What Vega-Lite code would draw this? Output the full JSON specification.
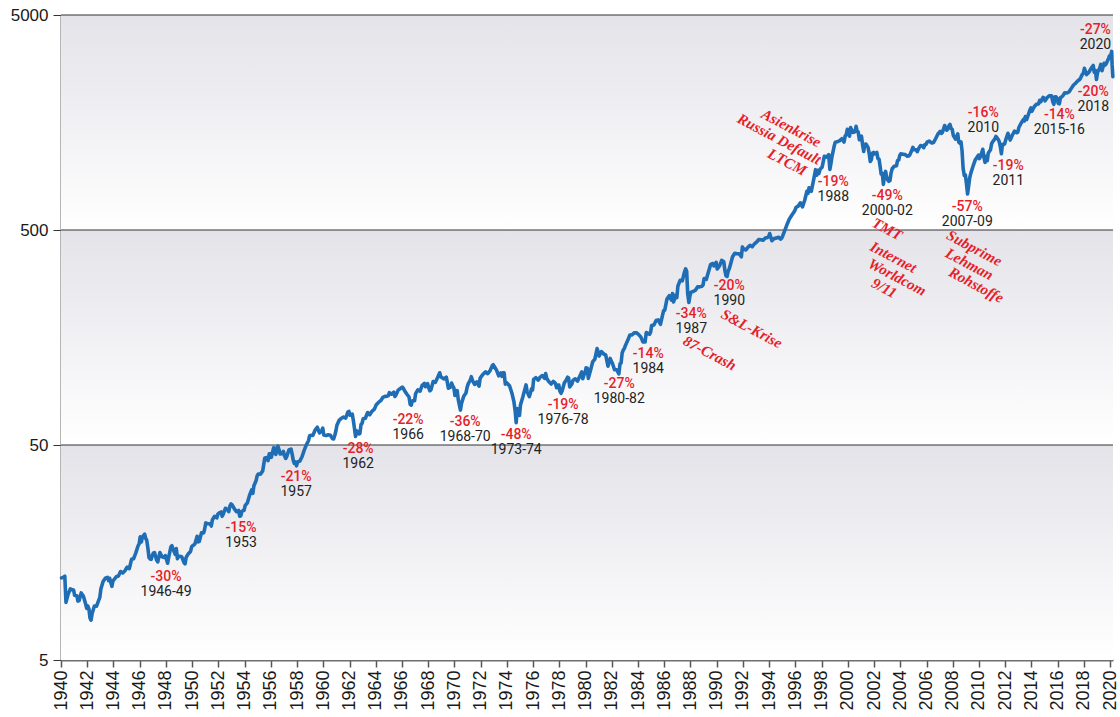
{
  "$schema": "https://vega.github.io/schema/vega-lite/v6.json",
  "width": 1052,
  "height": 645,
  "autosize": {"type": "none"},
  "padding": {"left": 61, "top": 15, "right": 7, "bottom": 57},
  "background": "#ffffff",
  "config": {
    "view": {"stroke": null},
    "axisX": {"labelOverlap": false, "labelSeparation": -30, "labelAngle": -90, "labelAlign": "right", "labelBaseline": "middle", "labelFont": "Liberation Sans", "labelFontSize": 18, "labelColor": "#1a1a1a", "tickSize": 7, "tickColor": "#555555", "tickWidth": 1.5, "domainColor": "#6e6e6e", "domainWidth": 2, "labelPadding": 3, "grid": false, "zindex": 1, "labelBound": false, "labelFlush": false, "title": null},
    "axisY": {"labelOverlap": false, "grid": false, "domainColor": "#6e6e6e", "domainWidth": 2, "tickColor": "#333333", "tickSize": 8, "tickWidth": 1, "labelFont": "Liberation Sans", "labelFontSize": 17, "labelColor": "#1a1a1a", "labelPadding": 5, "zindex": 1, "title": null}
  },
  "datasets": {
    "bands": [{"lo": 5, "hi": 50}, {"lo": 50, "hi": 500}, {"lo": 500, "hi": 5000}],
    "grid": [{"v": 50}, {"v": 500}, {"v": 5000}],
    "labels": [
      {"t": 1948.01, "v": 11.28, "pct": "-30%", "yr": "1946-49"},
      {"t": 1953.73, "v": 18.97, "pct": "-15%", "yr": "1953"},
      {"t": 1957.93, "v": 32.58, "pct": "-21%", "yr": "1957"},
      {"t": 1962.66, "v": 44.44, "pct": "-28%", "yr": "1962"},
      {"t": 1966.47, "v": 60.62, "pct": "-22%", "yr": "1966"},
      {"t": 1970.82, "v": 59.34, "pct": "-36%", "yr": "1968-70"},
      {"t": 1974.71, "v": 51.09, "pct": "-48%", "yr": "1973-74"},
      {"t": 1978.29, "v": 70.81, "pct": "-19%", "yr": "1976-78"},
      {"t": 1982.57, "v": 88.67, "pct": "-27%", "yr": "1980-82"},
      {"t": 1984.78, "v": 122.9, "pct": "-14%", "yr": "1984"},
      {"t": 1988.06, "v": 186.7, "pct": "-34%", "yr": "1987"},
      {"t": 1990.96, "v": 252.0, "pct": "-20%", "yr": "1990"},
      {"t": 1998.89, "v": 771.7, "pct": "-19%", "yr": "1988"},
      {"t": 2003.01, "v": 660.6, "pct": "-49%", "yr": "2000-02"},
      {"t": 2009.11, "v": 590.3, "pct": "-57%", "yr": "2007-09"},
      {"t": 2010.33, "v": 1624, "pct": "-16%", "yr": "2010"},
      {"t": 2012.24, "v": 910.9, "pct": "-19%", "yr": "2011"},
      {"t": 2016.13, "v": 1581, "pct": "-14%", "yr": "2015-16"},
      {"t": 2018.72, "v": 2023, "pct": "-20%", "yr": "2018"},
      {"t": 2018.88, "v": 3929, "pct": "-27%", "yr": "2020"}
    ],
    "notes": [
      {"t": 1995.69, "v": 1490.6, "txt": "Asienkrise"},
      {"t": 1994.77, "v": 1325, "txt": "Russia Default"},
      {"t": 1995.38, "v": 1035.8, "txt": "LTCM"},
      {"t": 2003.01, "v": 505.2, "txt": "TMT"},
      {"t": 2003.47, "v": 374.5, "txt": "Internet"},
      {"t": 2003.77, "v": 302.2, "txt": "Worldcom"},
      {"t": 2002.78, "v": 268.7, "txt": "9/11"},
      {"t": 2009.65, "v": 412.3, "txt": "Subprime"},
      {"t": 2009.27, "v": 347.4, "txt": "Lehman"},
      {"t": 2009.80, "v": 277.5, "txt": "Rohstoffe"},
      {"t": 1989.47, "v": 133.9, "txt": "87-Crash"},
      {"t": 1992.67, "v": 174.1, "txt": "S&L-Krise"}
    ],
    "sp": [
      {"t":1940.04,"v":12.05},{"t":1940.21,"v":12.15},{"t":1940.29,"v":12.27},{"t":1940.38,"v":9.27},{"t":1940.54,"v":10.1},{"t":1940.71,"v":10.7},{"t":1940.88,"v":10.6},{"t":1940.96,"v":10.58},
      {"t":1941.04,"v":10.0},{"t":1941.21,"v":9.95},{"t":1941.29,"v":9.4},{"t":1941.38,"v":9.45},{"t":1941.54,"v":10.26},{"t":1941.71,"v":9.9},{"t":1941.88,"v":9.1},{"t":1941.96,"v":8.69},
      {"t":1942.04,"v":8.93},{"t":1942.13,"v":8.65},{"t":1942.21,"v":7.84},{"t":1942.29,"v":7.66},{"t":1942.38,"v":8.25},{"t":1942.54,"v":8.9},{"t":1942.71,"v":8.9},{"t":1942.88,"v":9.5},{"t":1942.96,"v":9.77},
      {"t":1943.04,"v":10.7},{"t":1943.21,"v":11.6},{"t":1943.38,"v":12.0},{"t":1943.54,"v":12.1},{"t":1943.63,"v":11.7},{"t":1943.71,"v":12.0},{"t":1943.88,"v":11.0},{"t":1943.96,"v":11.67},
      {"t":1944.04,"v":11.8},{"t":1944.21,"v":12.2},{"t":1944.38,"v":12.3},{"t":1944.54,"v":12.9},{"t":1944.71,"v":12.7},{"t":1944.88,"v":13.0},{"t":1944.96,"v":13.28},
      {"t":1945.04,"v":13.5},{"t":1945.21,"v":13.3},{"t":1945.38,"v":14.7},{"t":1945.54,"v":14.8},{"t":1945.71,"v":15.8},{"t":1945.88,"v":17.0},{"t":1945.96,"v":17.36},
      {"t":1946.04,"v":18.7},{"t":1946.13,"v":17.7},{"t":1946.21,"v":18.7},{"t":1946.38,"v":19.25},{"t":1946.46,"v":18.4},{"t":1946.54,"v":18.0},{"t":1946.63,"v":16.5},{"t":1946.71,"v":14.96},{"t":1946.79,"v":14.75},{"t":1946.88,"v":14.7},{"t":1946.96,"v":15.3},
      {"t":1947.04,"v":15.7},{"t":1947.13,"v":15.8},{"t":1947.29,"v":14.6},{"t":1947.38,"v":14.3},{"t":1947.54,"v":15.8},{"t":1947.71,"v":15.1},{"t":1947.88,"v":15.0},{"t":1947.96,"v":15.3},
      {"t":1948.04,"v":14.7},{"t":1948.13,"v":14.1},{"t":1948.21,"v":15.0},{"t":1948.38,"v":16.8},{"t":1948.46,"v":17.0},{"t":1948.54,"v":16.4},{"t":1948.71,"v":15.5},{"t":1948.79,"v":16.5},{"t":1948.88,"v":14.8},{"t":1948.96,"v":15.2},
      {"t":1949.04,"v":15.2},{"t":1949.21,"v":15.1},{"t":1949.38,"v":14.2},{"t":1949.46,"v":14.0},{"t":1949.54,"v":15.0},{"t":1949.71,"v":15.6},{"t":1949.88,"v":16.0},{"t":1949.96,"v":16.8},
      {"t":1950.04,"v":17.0},{"t":1950.21,"v":17.3},{"t":1950.38,"v":18.8},{"t":1950.46,"v":17.7},{"t":1950.54,"v":17.8},{"t":1950.71,"v":19.5},{"t":1950.88,"v":19.5},{"t":1950.96,"v":20.4},
      {"t":1951.04,"v":21.7},{"t":1951.21,"v":21.5},{"t":1951.38,"v":21.5},{"t":1951.46,"v":21.0},{"t":1951.54,"v":22.4},{"t":1951.71,"v":23.3},{"t":1951.88,"v":22.9},{"t":1951.96,"v":23.8},
      {"t":1952.04,"v":24.1},{"t":1952.21,"v":24.4},{"t":1952.29,"v":23.3},{"t":1952.38,"v":23.9},{"t":1952.54,"v":25.4},{"t":1952.71,"v":25.0},{"t":1952.79,"v":24.5},{"t":1952.88,"v":26.0},{"t":1952.96,"v":26.6},
      {"t":1953.04,"v":26.4},{"t":1953.21,"v":25.3},{"t":1953.38,"v":24.5},{"t":1953.54,"v":24.8},{"t":1953.63,"v":23.3},{"t":1953.71,"v":23.4},{"t":1953.79,"v":24.5},{"t":1953.88,"v":24.8},{"t":1953.96,"v":24.8},
      {"t":1954.04,"v":26.1},{"t":1954.21,"v":26.9},{"t":1954.38,"v":29.2},{"t":1954.54,"v":30.9},{"t":1954.63,"v":29.8},{"t":1954.71,"v":32.3},{"t":1954.88,"v":34.2},{"t":1954.96,"v":36.0},
      {"t":1955.04,"v":36.6},{"t":1955.21,"v":36.6},{"t":1955.38,"v":37.9},{"t":1955.54,"v":43.5},{"t":1955.71,"v":43.7},{"t":1955.79,"v":42.3},{"t":1955.88,"v":45.5},{"t":1955.96,"v":45.5},
      {"t":1956.04,"v":43.8},{"t":1956.21,"v":48.5},{"t":1956.29,"v":48.4},{"t":1956.38,"v":45.2},{"t":1956.54,"v":49.4},{"t":1956.63,"v":47.5},{"t":1956.71,"v":45.4},{"t":1956.88,"v":45.6},{"t":1956.96,"v":46.7},
      {"t":1957.04,"v":44.7},{"t":1957.13,"v":43.3},{"t":1957.21,"v":44.1},{"t":1957.38,"v":47.4},{"t":1957.54,"v":47.9},{"t":1957.63,"v":45.2},{"t":1957.71,"v":42.4},{"t":1957.79,"v":41.1},{"t":1957.88,"v":41.7},{"t":1957.96,"v":40.0},
      {"t":1958.04,"v":41.7},{"t":1958.21,"v":42.1},{"t":1958.38,"v":44.1},{"t":1958.54,"v":47.2},{"t":1958.71,"v":50.1},{"t":1958.88,"v":52.5},{"t":1958.96,"v":55.2},
      {"t":1959.04,"v":55.4},{"t":1959.21,"v":55.4},{"t":1959.38,"v":58.7},{"t":1959.54,"v":60.5},{"t":1959.71,"v":56.9},{"t":1959.88,"v":58.3},{"t":1959.96,"v":59.9},
      {"t":1960.04,"v":55.6},{"t":1960.21,"v":55.3},{"t":1960.38,"v":55.8},{"t":1960.54,"v":55.5},{"t":1960.71,"v":53.5},{"t":1960.79,"v":53.4},{"t":1960.88,"v":55.5},{"t":1960.96,"v":58.1},
      {"t":1961.04,"v":61.8},{"t":1961.21,"v":65.1},{"t":1961.38,"v":66.6},{"t":1961.54,"v":67.4},{"t":1961.71,"v":66.7},{"t":1961.88,"v":71.3},{"t":1961.96,"v":71.6},
      {"t":1962.04,"v":68.8},{"t":1962.21,"v":69.6},{"t":1962.29,"v":65.2},{"t":1962.38,"v":59.6},{"t":1962.46,"v":54.8},{"t":1962.54,"v":58.2},{"t":1962.71,"v":56.3},{"t":1962.79,"v":56.5},{"t":1962.88,"v":62.3},{"t":1962.96,"v":63.1},
      {"t":1963.04,"v":66.2},{"t":1963.21,"v":66.6},{"t":1963.38,"v":70.8},{"t":1963.54,"v":69.1},{"t":1963.71,"v":71.7},{"t":1963.88,"v":73.2},{"t":1963.96,"v":75.0},
      {"t":1964.04,"v":77.0},{"t":1964.21,"v":78.9},{"t":1964.38,"v":80.4},{"t":1964.54,"v":83.2},{"t":1964.71,"v":84.2},{"t":1964.88,"v":84.4},{"t":1964.96,"v":84.8},
      {"t":1965.04,"v":87.6},{"t":1965.21,"v":86.2},{"t":1965.38,"v":88.0},{"t":1965.46,"v":84.1},{"t":1965.54,"v":85.3},{"t":1965.71,"v":90.0},{"t":1965.88,"v":91.6},{"t":1965.96,"v":92.4},
      {"t":1966.04,"v":92.9},{"t":1966.13,"v":91.2},{"t":1966.21,"v":89.2},{"t":1966.38,"v":86.1},{"t":1966.54,"v":83.6},{"t":1966.63,"v":77.1},{"t":1966.71,"v":76.6},{"t":1966.79,"v":80.2},{"t":1966.88,"v":80.5},{"t":1966.96,"v":80.3},
      {"t":1967.04,"v":86.6},{"t":1967.21,"v":90.2},{"t":1967.38,"v":89.1},{"t":1967.54,"v":94.8},{"t":1967.71,"v":96.7},{"t":1967.79,"v":93.3},{"t":1967.88,"v":94.0},{"t":1967.96,"v":96.5},
      {"t":1968.04,"v":92.2},{"t":1968.13,"v":89.4},{"t":1968.21,"v":90.2},{"t":1968.38,"v":98.7},{"t":1968.54,"v":97.7},{"t":1968.71,"v":102.7},{"t":1968.88,"v":108.4},{"t":1968.96,"v":103.9},
      {"t":1969.04,"v":103.0},{"t":1969.21,"v":101.5},{"t":1969.38,"v":103.5},{"t":1969.46,"v":97.7},{"t":1969.54,"v":91.8},{"t":1969.71,"v":93.1},{"t":1969.79,"v":97.1},{"t":1969.88,"v":93.8},{"t":1969.96,"v":92.1},
      {"t":1970.04,"v":85.0},{"t":1970.21,"v":89.6},{"t":1970.29,"v":81.5},{"t":1970.38,"v":76.6},{"t":1970.46,"v":72.7},{"t":1970.54,"v":78.1},{"t":1970.71,"v":84.3},{"t":1970.88,"v":87.2},{"t":1970.96,"v":92.2},
      {"t":1971.04,"v":95.9},{"t":1971.21,"v":100.3},{"t":1971.29,"v":103.9},{"t":1971.38,"v":99.6},{"t":1971.54,"v":95.6},{"t":1971.71,"v":98.3},{"t":1971.88,"v":94.0},{"t":1971.96,"v":102.1},
      {"t":1972.04,"v":103.9},{"t":1972.21,"v":107.2},{"t":1972.38,"v":109.5},{"t":1972.54,"v":107.4},{"t":1972.71,"v":110.6},{"t":1972.88,"v":116.7},{"t":1972.96,"v":118.1},
      {"t":1973.04,"v":116.0},{"t":1973.21,"v":111.5},{"t":1973.38,"v":104.9},{"t":1973.54,"v":108.2},{"t":1973.63,"v":104.3},{"t":1973.71,"v":108.4},{"t":1973.79,"v":108.3},{"t":1973.88,"v":96.0},{"t":1973.96,"v":97.6},
      {"t":1974.04,"v":96.6},{"t":1974.21,"v":94.0},{"t":1974.38,"v":87.3},{"t":1974.54,"v":79.3},{"t":1974.63,"v":72.2},{"t":1974.71,"v":63.5},{"t":1974.79,"v":73.9},{"t":1974.88,"v":70.0},{"t":1974.96,"v":68.6},
      {"t":1975.04,"v":77.0},{"t":1975.21,"v":83.4},{"t":1975.38,"v":91.2},{"t":1975.46,"v":95.2},{"t":1975.54,"v":88.8},{"t":1975.71,"v":83.9},{"t":1975.88,"v":91.2},{"t":1975.96,"v":90.2},
      {"t":1976.04,"v":100.9},{"t":1976.21,"v":102.8},{"t":1976.38,"v":100.2},{"t":1976.54,"v":103.4},{"t":1976.71,"v":105.2},{"t":1976.88,"v":102.1},{"t":1976.96,"v":107.5},
      {"t":1977.04,"v":102.0},{"t":1977.21,"v":98.4},{"t":1977.38,"v":96.1},{"t":1977.54,"v":98.9},{"t":1977.71,"v":96.5},{"t":1977.79,"v":92.3},{"t":1977.88,"v":94.8},{"t":1977.96,"v":95.1},
      {"t":1978.04,"v":89.3},{"t":1978.13,"v":87.0},{"t":1978.21,"v":89.2},{"t":1978.38,"v":97.2},{"t":1978.54,"v":100.7},{"t":1978.63,"v":103.3},{"t":1978.71,"v":102.5},{"t":1978.79,"v":93.2},{"t":1978.88,"v":94.7},{"t":1978.96,"v":96.1},
      {"t":1979.04,"v":99.9},{"t":1979.21,"v":101.6},{"t":1979.38,"v":99.1},{"t":1979.54,"v":103.8},{"t":1979.71,"v":109.3},{"t":1979.79,"v":101.8},{"t":1979.88,"v":106.2},{"t":1979.96,"v":107.9},
      {"t":1980.04,"v":114.2},{"t":1980.13,"v":113.7},{"t":1980.21,"v":102.1},{"t":1980.29,"v":106.3},{"t":1980.38,"v":111.2},{"t":1980.54,"v":121.7},{"t":1980.71,"v":125.5},{"t":1980.88,"v":140.5},{"t":1980.96,"v":135.8},
      {"t":1981.04,"v":129.6},{"t":1981.21,"v":136.0},{"t":1981.38,"v":132.6},{"t":1981.54,"v":130.9},{"t":1981.71,"v":116.2},{"t":1981.88,"v":126.4},{"t":1981.96,"v":122.6},
      {"t":1982.04,"v":120.4},{"t":1982.21,"v":112.0},{"t":1982.38,"v":111.9},{"t":1982.54,"v":107.1},{"t":1982.63,"v":119.5},{"t":1982.71,"v":120.4},{"t":1982.79,"v":133.7},{"t":1982.88,"v":138.5},{"t":1982.96,"v":140.6},
      {"t":1983.04,"v":145.3},{"t":1983.21,"v":153.0},{"t":1983.38,"v":162.4},{"t":1983.54,"v":162.6},{"t":1983.71,"v":166.1},{"t":1983.88,"v":166.4},{"t":1983.96,"v":164.9},
      {"t":1984.04,"v":163.4},{"t":1984.21,"v":159.2},{"t":1984.38,"v":150.6},{"t":1984.54,"v":150.7},{"t":1984.63,"v":166.7},{"t":1984.71,"v":166.1},{"t":1984.88,"v":163.6},{"t":1984.96,"v":167.2},
      {"t":1985.04,"v":179.6},{"t":1985.21,"v":180.7},{"t":1985.38,"v":189.6},{"t":1985.54,"v":190.9},{"t":1985.71,"v":182.1},{"t":1985.88,"v":202.2},{"t":1985.96,"v":211.3},
      {"t":1986.04,"v":211.8},{"t":1986.21,"v":238.9},{"t":1986.38,"v":247.4},{"t":1986.54,"v":236.1},{"t":1986.63,"v":252.9},{"t":1986.71,"v":231.3},{"t":1986.88,"v":249.2},{"t":1986.96,"v":242.2},
      {"t":1987.04,"v":274.1},{"t":1987.21,"v":291.7},{"t":1987.38,"v":290.1},{"t":1987.54,"v":318.7},{"t":1987.63,"v":329.8},{"t":1987.71,"v":321.8},{"t":1987.79,"v":251.8},{"t":1987.88,"v":230.3},{"t":1987.96,"v":247.1},
      {"t":1988.04,"v":257.1},{"t":1988.21,"v":258.9},{"t":1988.38,"v":262.2},{"t":1988.54,"v":272.0},{"t":1988.71,"v":271.9},{"t":1988.88,"v":273.7},{"t":1988.96,"v":277.7},
      {"t":1989.04,"v":297.5},{"t":1989.21,"v":294.9},{"t":1989.38,"v":320.5},{"t":1989.54,"v":346.1},{"t":1989.71,"v":349.2},{"t":1989.79,"v":340.4},{"t":1989.88,"v":346.0},{"t":1989.96,"v":353.4},
      {"t":1990.04,"v":329.1},{"t":1990.21,"v":339.9},{"t":1990.38,"v":361.2},{"t":1990.54,"v":356.2},{"t":1990.63,"v":322.6},{"t":1990.71,"v":306.1},{"t":1990.79,"v":304.0},{"t":1990.88,"v":322.2},{"t":1990.96,"v":330.2},
      {"t":1991.04,"v":343.9},{"t":1991.21,"v":375.2},{"t":1991.38,"v":389.8},{"t":1991.54,"v":387.8},{"t":1991.71,"v":387.9},{"t":1991.88,"v":375.2},{"t":1991.96,"v":417.1},
      {"t":1992.04,"v":408.8},{"t":1992.21,"v":403.7},{"t":1992.38,"v":415.4},{"t":1992.54,"v":424.2},{"t":1992.71,"v":417.8},{"t":1992.88,"v":431.4},{"t":1992.96,"v":435.7},
      {"t":1993.04,"v":438.8},{"t":1993.21,"v":451.7},{"t":1993.38,"v":450.2},{"t":1993.54,"v":448.1},{"t":1993.71,"v":458.9},{"t":1993.88,"v":461.8},{"t":1993.96,"v":466.5},
      {"t":1994.04,"v":481.6},{"t":1994.21,"v":445.8},{"t":1994.38,"v":456.5},{"t":1994.54,"v":458.3},{"t":1994.71,"v":462.7},{"t":1994.88,"v":453.7},{"t":1994.96,"v":459.3},
      {"t":1995.04,"v":470.4},{"t":1995.21,"v":500.7},{"t":1995.38,"v":533.4},{"t":1995.54,"v":562.1},{"t":1995.71,"v":584.4},{"t":1995.88,"v":605.4},{"t":1995.96,"v":615.9},
      {"t":1996.04,"v":636.0},{"t":1996.21,"v":645.5},{"t":1996.38,"v":669.1},{"t":1996.54,"v":640.0},{"t":1996.71,"v":687.3},{"t":1996.88,"v":757.0},{"t":1996.96,"v":740.7},
      {"t":1997.04,"v":786.2},{"t":1997.21,"v":757.1},{"t":1997.38,"v":848.3},{"t":1997.54,"v":954.3},{"t":1997.63,"v":899.5},{"t":1997.71,"v":947.3},{"t":1997.79,"v":914.6},{"t":1997.88,"v":955.4},{"t":1997.96,"v":970.4},
      {"t":1998.04,"v":980.3},{"t":1998.21,"v":1101.8},{"t":1998.38,"v":1090.8},{"t":1998.54,"v":1120.7},{"t":1998.63,"v":957.3},{"t":1998.71,"v":1017.0},{"t":1998.79,"v":1098.7},{"t":1998.88,"v":1163.6},{"t":1998.96,"v":1229.2},
      {"t":1999.04,"v":1279.6},{"t":1999.21,"v":1286.4},{"t":1999.38,"v":1301.8},{"t":1999.54,"v":1328.7},{"t":1999.71,"v":1282.7},{"t":1999.79,"v":1362.9},{"t":1999.88,"v":1388.9},{"t":1999.96,"v":1469.3},
      {"t":2000.04,"v":1394.5},{"t":2000.13,"v":1366.4},{"t":2000.21,"v":1498.6},{"t":2000.38,"v":1420.6},{"t":2000.54,"v":1430.8},{"t":2000.63,"v":1517.7},{"t":2000.71,"v":1436.5},{"t":2000.79,"v":1429.4},{"t":2000.88,"v":1315.2},{"t":2000.96,"v":1320.3},
      {"t":2001.04,"v":1366.0},{"t":2001.13,"v":1239.9},{"t":2001.21,"v":1160.3},{"t":2001.29,"v":1249.5},{"t":2001.38,"v":1255.8},{"t":2001.54,"v":1211.2},{"t":2001.63,"v":1133.6},{"t":2001.71,"v":1040.9},{"t":2001.79,"v":1059.8},{"t":2001.88,"v":1139.5},{"t":2001.96,"v":1148.1},
      {"t":2002.04,"v":1130.2},{"t":2002.21,"v":1147.4},{"t":2002.29,"v":1076.9},{"t":2002.38,"v":1067.1},{"t":2002.46,"v":989.8},{"t":2002.54,"v":911.6},{"t":2002.63,"v":916.1},{"t":2002.71,"v":815.3},{"t":2002.79,"v":885.8},{"t":2002.88,"v":936.3},{"t":2002.96,"v":879.8},
      {"t":2003.04,"v":855.7},{"t":2003.13,"v":841.2},{"t":2003.21,"v":848.2},{"t":2003.29,"v":916.9},{"t":2003.38,"v":963.6},{"t":2003.54,"v":990.3},{"t":2003.71,"v":996.0},{"t":2003.79,"v":1050.7},{"t":2003.88,"v":1058.2},{"t":2003.96,"v":1111.9},
      {"t":2004.04,"v":1131.1},{"t":2004.21,"v":1126.2},{"t":2004.38,"v":1120.7},{"t":2004.54,"v":1101.7},{"t":2004.63,"v":1104.2},{"t":2004.71,"v":1114.6},{"t":2004.88,"v":1173.8},{"t":2004.96,"v":1211.9},
      {"t":2005.04,"v":1181.3},{"t":2005.21,"v":1180.6},{"t":2005.29,"v":1156.9},{"t":2005.38,"v":1191.5},{"t":2005.54,"v":1234.2},{"t":2005.71,"v":1228.8},{"t":2005.79,"v":1207.0},{"t":2005.88,"v":1249.5},{"t":2005.96,"v":1248.3},
      {"t":2006.04,"v":1280.1},{"t":2006.21,"v":1294.8},{"t":2006.38,"v":1270.1},{"t":2006.46,"v":1270.2},{"t":2006.54,"v":1276.7},{"t":2006.71,"v":1335.9},{"t":2006.88,"v":1400.6},{"t":2006.96,"v":1418.3},
      {"t":2007.04,"v":1438.2},{"t":2007.13,"v":1406.8},{"t":2007.21,"v":1420.9},{"t":2007.38,"v":1530.6},{"t":2007.54,"v":1455.3},{"t":2007.63,"v":1474.0},{"t":2007.71,"v":1526.8},{"t":2007.79,"v":1549.4},{"t":2007.88,"v":1481.1},{"t":2007.96,"v":1468.4},
      {"t":2008.04,"v":1378.6},{"t":2008.21,"v":1322.7},{"t":2008.38,"v":1400.4},{"t":2008.46,"v":1280.0},{"t":2008.54,"v":1267.4},{"t":2008.63,"v":1282.8},{"t":2008.71,"v":1166.4},{"t":2008.79,"v":968.8},{"t":2008.88,"v":896.2},{"t":2008.96,"v":903.3},
      {"t":2009.04,"v":825.9},{"t":2009.13,"v":735.1},{"t":2009.21,"v":797.9},{"t":2009.29,"v":872.8},{"t":2009.38,"v":919.1},{"t":2009.54,"v":987.5},{"t":2009.71,"v":1057.1},{"t":2009.88,"v":1095.6},{"t":2009.96,"v":1115.1},
      {"t":2010.04,"v":1073.9},{"t":2010.13,"v":1104.5},{"t":2010.29,"v":1186.7},{"t":2010.38,"v":1089.4},{"t":2010.46,"v":1030.7},{"t":2010.54,"v":1101.6},{"t":2010.63,"v":1049.3},{"t":2010.71,"v":1141.2},{"t":2010.88,"v":1180.6},{"t":2010.96,"v":1257.6},
      {"t":2011.04,"v":1286.1},{"t":2011.21,"v":1325.8},{"t":2011.29,"v":1363.6},{"t":2011.46,"v":1320.6},{"t":2011.54,"v":1292.3},{"t":2011.63,"v":1218.9},{"t":2011.71,"v":1131.4},{"t":2011.79,"v":1253.3},{"t":2011.88,"v":1247.0},{"t":2011.96,"v":1257.6},
      {"t":2012.04,"v":1312.4},{"t":2012.21,"v":1408.5},{"t":2012.38,"v":1310.3},{"t":2012.54,"v":1379.3},{"t":2012.71,"v":1440.7},{"t":2012.88,"v":1416.2},{"t":2012.96,"v":1426.2},
      {"t":2013.04,"v":1498.1},{"t":2013.21,"v":1569.2},{"t":2013.38,"v":1630.7},{"t":2013.46,"v":1606.3},{"t":2013.54,"v":1685.7},{"t":2013.63,"v":1633.0},{"t":2013.71,"v":1681.6},{"t":2013.88,"v":1805.8},{"t":2013.96,"v":1848.4},
      {"t":2014.04,"v":1782.6},{"t":2014.21,"v":1872.3},{"t":2014.38,"v":1923.6},{"t":2014.54,"v":1930.7},{"t":2014.63,"v":2003.4},{"t":2014.71,"v":1972.3},{"t":2014.88,"v":2067.6},{"t":2014.96,"v":2058.9},
      {"t":2015.04,"v":1995.0},{"t":2015.21,"v":2067.9},{"t":2015.38,"v":2107.4},{"t":2015.54,"v":2103.8},{"t":2015.63,"v":1972.2},{"t":2015.71,"v":1920.0},{"t":2015.79,"v":2079.4},{"t":2015.88,"v":2080.4},{"t":2015.96,"v":2043.9},
      {"t":2016.04,"v":1940.2},{"t":2016.13,"v":1932.2},{"t":2016.21,"v":2059.7},{"t":2016.38,"v":2096.9},{"t":2016.54,"v":2173.6},{"t":2016.71,"v":2168.3},{"t":2016.88,"v":2198.8},{"t":2016.96,"v":2238.8},
      {"t":2017.04,"v":2278.9},{"t":2017.21,"v":2362.7},{"t":2017.38,"v":2411.8},{"t":2017.54,"v":2470.3},{"t":2017.71,"v":2519.4},{"t":2017.88,"v":2647.6},{"t":2017.96,"v":2673.6},
      {"t":2018.04,"v":2823.8},{"t":2018.13,"v":2713.8},{"t":2018.21,"v":2640.9},{"t":2018.38,"v":2705.3},{"t":2018.54,"v":2816.3},{"t":2018.71,"v":2914.0},{"t":2018.79,"v":2711.7},{"t":2018.88,"v":2760.2},{"t":2018.96,"v":2506.9},
      {"t":2019.04,"v":2704.1},{"t":2019.21,"v":2834.4},{"t":2019.29,"v":2945.8},{"t":2019.38,"v":2752.1},{"t":2019.54,"v":2980.4},{"t":2019.63,"v":2926.5},{"t":2019.71,"v":2976.7},{"t":2019.88,"v":3141.0},{"t":2019.96,"v":3230.8},
      {"t":2020.04,"v":3225.5},{"t":2020.12,"v":3386.0},{"t":2020.15,"v":2954.2},{"t":2020.21,"v":2584.6}
    ]
  },
  "layer": [
    {
      "data": {"name": "bands"},
      "mark": {"type": "rect", "fill": {"gradient": "linear", "x1": 0, "y1": 0, "x2": 0, "y2": 1, "stops": [{"offset": 0, "color": "#e3e3e9"}, {"offset": 1, "color": "#ffffff"}]}},
      "encoding": {
        "y": {"field": "hi", "type": "quantitative", "title": null, "scale": {"type": "log", "domain": [5, 5000], "nice": false},
          "axis": {"values": [5, 50, 500, 5000], "format": "d", "labelOverlap": false}},
        "y2": {"field": "lo"}
      }
    },
    {
      "data": {"name": "grid"},
      "mark": {"type": "rule", "color": "#333333", "strokeWidth": 1},
      "encoding": {"y": {"field": "v", "type": "quantitative", "title": null}}
    },
    {
      "data": {"name": "sp"},
      "mark": {"type": "line", "color": "#1e6db5", "strokeWidth": 3.6, "strokeJoin": "round", "strokeCap": "round"},
      "encoding": {
        "x": {"field": "t", "type": "quantitative", "title": null, "scale": {"domain": [1940, 2020.22], "nice": false, "zero": false},
          "axis": {"values": [1940,1942,1944,1946,1948,1950,1952,1954,1956,1958,1960,1962,1964,1966,1968,1970,1972,1974,1976,1978,1980,1982,1984,1986,1988,1990,1992,1994,1996,1998,2000,2002,2004,2006,2008,2010,2012,2014,2016,2018,2020], "tickCount": 41, "format": "d", "labelOverlap": false, "labelSeparation": -30}},
        "y": {"field": "v", "type": "quantitative", "title": null}
      }
    },
    {
      "data": {"name": "labels"},
      "mark": {"type": "text", "font": "Roboto", "fontSize": 14, "fontWeight": 500, "color": "#e61e2a", "align": "center", "baseline": "middle", "dy": -7.5},
      "encoding": {
        "x": {"field": "t", "type": "quantitative", "title": null},
        "y": {"field": "v", "type": "quantitative", "title": null},
        "text": {"field": "pct"}
      }
    },
    {
      "data": {"name": "labels"},
      "mark": {"type": "text", "font": "Roboto", "fontSize": 14, "color": "#222222", "align": "center", "baseline": "middle", "dy": 7.5},
      "encoding": {
        "x": {"field": "t", "type": "quantitative", "title": null},
        "y": {"field": "v", "type": "quantitative", "title": null},
        "text": {"field": "yr"}
      }
    },
    {
      "data": {"name": "notes"},
      "mark": {"type": "text", "font": "Liberation Serif", "fontSize": 15, "fontStyle": "italic", "fontWeight": "bold", "color": "#e61e2a", "align": "center", "baseline": "middle", "angle": 28},
      "encoding": {
        "x": {"field": "t", "type": "quantitative", "title": null},
        "y": {"field": "v", "type": "quantitative", "title": null},
        "text": {"field": "txt"}
      }
    }
  ]
}
